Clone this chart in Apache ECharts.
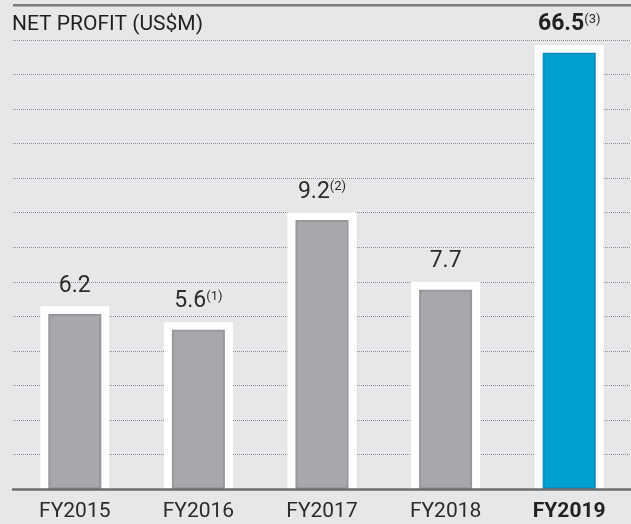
<!DOCTYPE html>
<html lang="en">
<head>
    <meta charset="UTF-8">
    <script type="text/javascript" src="https://cdn.jsdelivr.net/npm/echarts@6/dist/echarts.min.js"></script>
    <title>Net profit</title>
    <style>
        html, body { margin: 0; padding: 0; background: #e6e7e8; }
    </style>
</head>
<body>
<div id="profitChart" style="width: 631px;height:524px;"></div>
<script type="text/javascript">
    // categories and values
    var years = ['FY2015', 'FY2016', 'FY2017', 'FY2018', 'FY2019'];
    var profitLabels = ['6.2', '5.6', '9.2', '7.7', '66.5'];
    var footnotes = ['', '(1)', '(2)', '', '(3)'];
    // drawn bar heights (the graphic is not to scale), in gridline steps
    var barHeights = [5.07, 4.61, 7.79, 5.77, 12.63];

    var FRAME = 0.22; // white frame above each bar, in gridline steps
    var lastIdx = years.length - 1;

    var profitChart = echarts.init(document.getElementById('profitChart'));

    var frameData = barHeights.map(function (h) { return h + FRAME; });
    var barData = barHeights.map(function (h, i) {
        if (i === lastIdx) {
            return { value: h, itemStyle: { color: '#00a0d2', borderColor: '#0090c0' } };
        }
        return h;
    });

    profitChart.setOption({
        backgroundColor: '#e6e7e8',
        title: {
            text: 'NET PROFIT (US$M)',
            left: 12,
            top: 14,
            padding: 0,
            textStyle: {
                fontFamily: 'Roboto',
                fontSize: 21,
                fontWeight: 'normal',
                color: '#231f20'
            }
        },
        graphic: [{
            type: 'line',
            shape: { x1: 13, y1: 5.3, x2: 631, y2: 5.3 },
            style: { stroke: '#7b7c7e', lineWidth: 2.5 }
        }],
        grid: { left: 13, right: 0, top: 40, bottom: 35 },
        xAxis: [{
            type: 'category',
            data: years,
            z: 10,
            axisTick: { show: false },
            axisLine: { lineStyle: { color: '#6d6e70', width: 2.5 } },
            axisLabel: {
                interval: 0,
                margin: 12,
                fontFamily: 'Roboto',
                fontSize: 21,
                color: '#2b2b2d',
                formatter: function (v, i) {
                    return i === lastIdx ? '{b|' + v + '}' : v;
                },
                rich: {
                    b: { fontFamily: 'Roboto', fontSize: 21, fontWeight: 'bold', color: '#231f20' }
                }
            }
        }, {
            type: 'category',
            data: years,
            show: false
        }],
        yAxis: {
            type: 'value',
            min: 0,
            max: 13,
            interval: 1,
            axisLabel: { show: false },
            axisLine: { show: false },
            axisTick: { show: false },
            splitLine: { lineStyle: { color: '#8c8d90', type: 'dotted', width: 1 } }
        },
        series: [{
            name: 'frame',
            type: 'bar',
            xAxisIndex: 1,
            barWidth: 69,
            data: frameData,
            itemStyle: { color: '#ffffff' },
            silent: true,
            label: {
                show: true,
                position: 'top',
                distance: 9,
                formatter: function (p) {
                    var v = p.dataIndex === lastIdx ? '{vb|' + profitLabels[p.dataIndex] + '}' : '{v|' + profitLabels[p.dataIndex] + '}';
                    return footnotes[p.dataIndex] ? v + '{s|' + footnotes[p.dataIndex] + '}' : v;
                },
                rich: {
                    v: { fontFamily: 'Roboto', fontSize: 23, color: '#2b2b2d', lineHeight: 23 },
                    vb: { fontFamily: 'Roboto', fontSize: 23, fontWeight: 'bold', color: '#231f20', lineHeight: 23 },
                    s: { fontFamily: 'Roboto', fontSize: 13, color: '#2b2b2d', lineHeight: 14, verticalAlign: 'top' }
                }
            }
        }, {
            name: 'profit',
            type: 'bar',
            xAxisIndex: 0,
            barWidth: 53,
            data: barData,
            itemStyle: { color: '#a7a8ab', borderColor: '#97989b', borderWidth: 2 }
        }]
    });
</script>
</body>
</html>
